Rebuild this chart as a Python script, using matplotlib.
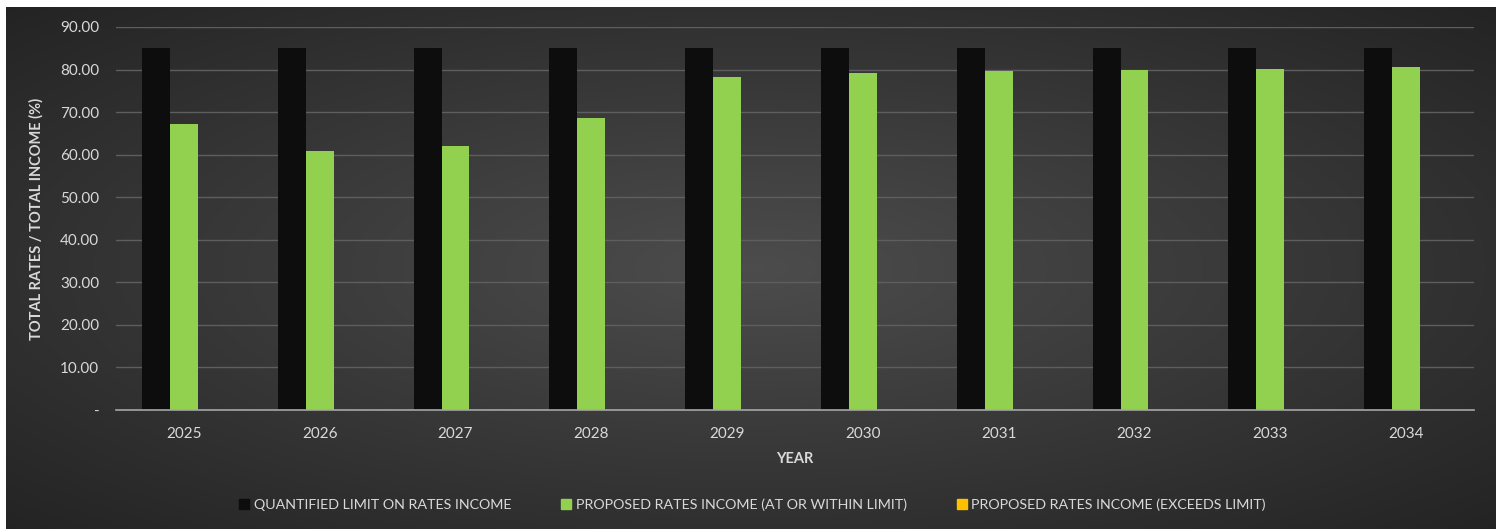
import numpy as np
import matplotlib.pyplot as plt
from matplotlib.patches import Patch

years = ['2025', '2026', '2027', '2028', '2029', '2030', '2031', '2032', '2033', '2034']
limit = [85, 85, 85, 85, 85, 85, 85, 85, 85, 85]
within = [67.2, 60.9, 62.0, 68.6, 78.3, 79.2, 79.7, 79.9, 80.1, 80.6]
exceeds = [0, 0, 0, 0, 0, 0, 0, 0, 0, 0]
yticks = [0, 10, 20, 30, 40, 50, 60, 70, 80, 90]
ytick_labels = ['-'] + [f'{v:.2f}' for v in yticks[1:]]

plt.rcParams['font.family'] = ['Lato', 'DejaVu Sans']
txt = '#d9d9d9'

fig = plt.figure(figsize=(14.96, 5.29), dpi=100, facecolor='white')

# radial gradient background
bg = fig.add_axes([6 / 1496, 0, 1 - 6 / 1496, 1 - 7 / 529])
gx, gy = np.meshgrid(np.linspace(-1, 1, 600), np.linspace(-1, 1, 300))
r = np.sqrt(gx ** 2 + gy ** 2) / np.sqrt(2)
shade = 0.30 - 0.16 * r
bg.imshow(np.dstack([shade, shade, shade]), aspect='auto', extent=[0, 1, 0, 1], interpolation='bilinear')
bg.set_axis_off()

ax = fig.add_axes([116 / 1496, 1 - 410 / 529, (1474 - 116) / 1496, (410 - 27) / 529])
ax.patch.set_alpha(0)

x = np.arange(len(years))
w = 0.206
ax.bar(x - w, limit, w, color='#0d0d0d', zorder=3)
ax.bar(x, within, w, color='#92d050', zorder=3)
ax.bar(x + w, exceeds, w, color='#ffc000', zorder=3)

ax.set_xlim(-0.5, len(years) - 0.5)
ax.set_ylim(0, 90)
ax.set_yticks(yticks)
ax.set_yticklabels(ytick_labels)
ax.set_xticks(x)
ax.set_xticklabels(years)
ax.grid(axis='y', color='#5e5e5e', linewidth=1, zorder=0)
ax.tick_params(length=0, colors=txt, labelsize=11)
ax.tick_params(axis='y', pad=12)
ax.tick_params(axis='x', pad=12)
for s in ['top', 'right', 'left']:
    ax.spines[s].set_visible(False)
ax.spines['bottom'].set_color('#a6a6a6')
ax.spines['bottom'].set_linewidth(1.2)
ax.spines['bottom'].set_zorder(4)

ax.set_ylabel('TOTAL RATES / TOTAL INCOME (%)', color=txt, fontsize=10.5, fontweight='bold', labelpad=12)
ax.set_xlabel('YEAR', color=txt, fontsize=10.5, fontweight='bold', labelpad=8)

handles = [Patch(color='#0d0d0d'), Patch(color='#92d050'), Patch(color='#ffc000')]
labels = ['QUANTIFIED LIMIT ON RATES INCOME', 'PROPOSED RATES INCOME (AT OR WITHIN LIMIT)',
          'PROPOSED RATES INCOME (EXCEEDS LIMIT)']
fig.legend(handles, labels, loc='center', bbox_to_anchor=(0.503, 1 - 505 / 529), ncol=3,
           frameon=False, fontsize=10.3, labelcolor=txt, handlelength=0.7, handleheight=0.7,
           handletextpad=0.3, columnspacing=3.5)

fig.savefig('out.png', dpi=100)
